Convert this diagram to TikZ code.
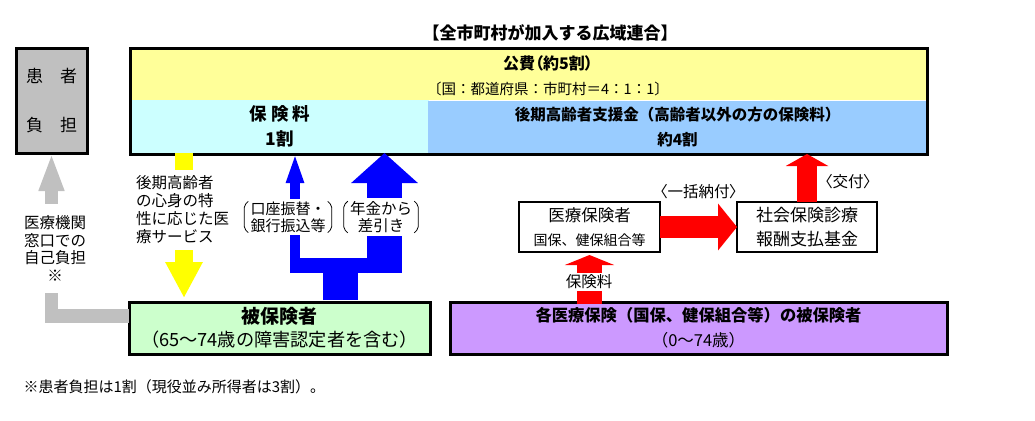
\documentclass[tikz,border=0pt]{standalone}
\usepackage{fontspec}
\setmainfont{Noto Sans CJK JP}
\newfontfamily\proport{Noto Sans CJK JP}[RawFeature=+palt]
\usetikzlibrary{arrows.meta}

\definecolor{kgray}{HTML}{C0C0C0}
\definecolor{kohiyel}{HTML}{FFFF99}
\definecolor{hokcyan}{HTML}{CCFFFF}
\definecolor{shienblue}{HTML}{99CCFF}
\definecolor{hgreen}{HTML}{CCFFCC}
\definecolor{kpurple}{HTML}{CC99FF}
\definecolor{ablue}{HTML}{0000FF}
\definecolor{ared}{HTML}{FF0000}
\definecolor{ayel}{HTML}{FFFF00}

\newcommand\fsz[2]{\fontsize{#1}{#2}\selectfont}
% brackets round a two-line label
\newcommand\kakko[1]{%
  \draw[line width=0.8pt, rounded corners=2pt]
    ([xshift=4pt,yshift=-3pt]#1.north west) -- ([yshift=-7pt]#1.north west)
    -- ([yshift=7pt]#1.south west) -- ([xshift=4pt,yshift=3pt]#1.south west);
  \draw[line width=0.8pt, rounded corners=2pt]
    ([xshift=-4pt,yshift=-3pt]#1.north east) -- ([yshift=-7pt]#1.north east)
    -- ([yshift=7pt]#1.south east) -- ([xshift=-4pt,yshift=3pt]#1.south east);
}

\tikzset{
  heavy/.style={draw=black, line width=3pt, inner sep=0pt, outer sep=0pt},
  thinbox/.style={draw=black, line width=1.5pt, fill=white, inner sep=0pt, outer sep=0pt, align=center},
  band/.style={inner sep=0pt, outer sep=0pt, align=center},
  note/.style={fill=white, inner xsep=4pt, inner ysep=3pt},
  greyarr/.style={draw=kgray, line width=13.5pt, -{Triangle[length=38pt,width=23pt]}},
  yelarr/.style={draw=ayel, line width=18pt, -{Triangle[length=36pt,width=35pt]}},
  bluearr/.style={draw=ablue, -{Triangle[length=30pt,width=#1]}},
  redarr/.style={draw=ared, -{Triangle[length=#1]}}
}

\begin{document}
\begin{tikzpicture}[x=1pt, y=-1pt]
  \useasboundingbox (0,0) rectangle (1035,420);

  \node[font=\fsz{17}{20}\bfseries] (title) at (550,33) {【全市町村が加入する広域連合】};

  % the union
  \node[band, fill=kohiyel, minimum width=797pt, minimum height=51pt] (kohi) at (528.5,74.5) {};
  \node[band, fill=hokcyan, minimum width=298pt, minimum height=53pt,
        font=\fsz{17.5}{25}\bfseries] (hokenryo) at (280,126.5) {保 険 料\\1割};
  \node[band, fill=shienblue, minimum width=499pt, minimum height=53pt,
        font=\fsz{15.5}{25}\bfseries] (shien) at (677.5,127.5)
        {後期高齢者支援金（高齢者以外の方の保険料）\\約4割};
  \node[align=center, font=\fsz{14.5}{25}] (kohitext) at (548,75.5)
        {{\proport\fsz{16}{25}\bfseries 公費（約5割）}\\〔国：都道府県：市町村＝4：1：1〕};
  \draw[heavy] (kohi.north west) rectangle (shien.south east);

  \node[heavy, fill=kgray, minimum width=71pt, minimum height=104pt, align=center,
        font=\fsz{17}{49}] (kanja) at (51.5,101) {患　者\\負　担};

  \node[heavy, fill=hgreen, minimum width=301pt, minimum height=52pt, align=center,
        font=\fsz{18.2}{23}] (hiho) at (279.5,328)
        {{\fsz{19}{23}\bfseries 被保険者}\\（65～74歳の障害認定者を含む）};
  \node[heavy, fill=kpurple, minimum width=497pt, minimum height=52pt, align=center,
        font=\fsz{16.5}{25}] (kakuiryo) at (698.5,328)
        {{\fsz{16.3}{25}\bfseries 各医療保険（国保、健保組合等）の被保険者}\\（0～74歳）};

  \node[thinbox, minimum width=141pt, minimum height=50pt, font=\fsz{16.5}{24}]
        (iryohoken) at (589.5,227) {医療保険者\\{\fsz{14}{24}国保、健保組合等}};
  \node[thinbox, minimum width=140pt, minimum height=50pt, font=\fsz{17}{24}]
        (shiharai) at (807,227) {社会保険診療\\報酬支払基金};

  % patient share
  \draw[greyarr] ([yshift=12pt]hiho.west) -| (kanja.south);
  \node[note, align=center, inner ysep=11pt, font=\fsz{15.5}{17.7}] (madoguchi) at (55,248.5)
        {医療機関\\窓口での\\自己負担\\※};

  % medical services
  \coordinate (yx) at (184,0);
  \draw[yelarr] (yx |- hokenryo.south) -- ([yshift=4pt]yx |- hiho.north);
  \node[note, align=left, anchor=west, inner xsep=0pt, inner ysep=6pt, font=\fsz{15.5}{18}]
        (iryosv) at (136,210) {後期高齢者\\の心身の特\\性に応じた医\\療サービス};

  % premiums
  \coordinate (bfork) at (340.5,265.5);
  \coordinate (bleft) at (295,265.5);
  \coordinate (bright) at (384.5,265.5);
  \draw[draw=ablue, line width=35pt] ([yshift=2pt]bfork |- hiho.north) -- (bfork);
  \fill[ablue] ([xshift=-5pt,yshift=7.5pt]bleft) rectangle ([xshift=17.5pt,yshift=-7.5pt]bright);
  \draw[bluearr=16pt, line width=10pt] ([yshift=-7.5pt]bleft) -- (bleft |- hokenryo.south);
  \draw[bluearr=65pt, line width=35pt] ([yshift=-7.5pt]bright) -- (bright |- hokenryo.south);
  \node[note, align=left, inner xsep=6pt, font=\fsz{15}{17}] (koza) at (288,217)
        {口座振替・\\銀行振込等};
  \node[note, align=center, inner xsep=6pt, font=\fsz{15.5}{17}] (nenkin) at (381,217)
        {年金から\\差引き};
  \kakko{koza}
  \kakko{nenkin}

  % support money
  \draw[redarr={10pt,width=49pt}, line width=25pt, shorten >=3pt]
        ([yshift=-1.5pt]iryohoken.south |- kakuiryo.north) -- (iryohoken.south);
  \node[note, inner ysep=2pt, font=\fsz{15.5}{17}] (hokenlbl) at (589,282) {保険料};
  \draw[redarr={19pt,width=46pt}, line width=22pt] (iryohoken.east) -- (shiharai.west)
        node[midway, yshift=35pt, font=\proport\fsz{15.5}{17}] (ikkatsu) {〈一括納付〉};
  \draw[redarr={12pt,width=42pt}, line width=20pt] (shiharai.north) -- (shiharai.north |- shien.south)
        node[midway, xshift=41pt, yshift=-4pt, font=\proport\fsz{15.5}{17}] (kofu) {〈交付〉};

  \node[anchor=west, font=\fsz{15}{17}] (chu) at (20,387) {※患者負担は1割（現役並み所得者は3割）。};
\end{tikzpicture}
\end{document}
